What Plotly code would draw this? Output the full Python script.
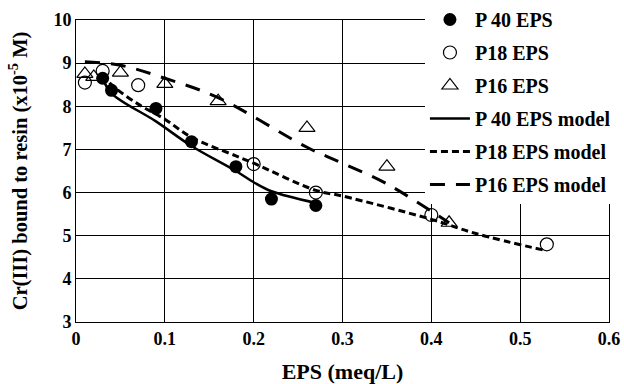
import plotly.graph_objects as go

# Data
p40_x = [0.03, 0.04, 0.09, 0.13, 0.18, 0.22, 0.27]
p40_y = [8.65, 8.37, 7.95, 7.18, 6.60, 5.85, 5.70]
p18_x = [0.01, 0.03, 0.07, 0.20, 0.27, 0.40, 0.53]
p18_y = [8.55, 8.82, 8.49, 6.66, 6.00, 5.48, 4.80]
p16_x = [0.01, 0.02, 0.05, 0.10, 0.16, 0.26, 0.35, 0.42]
p16_y = [8.75, 8.68, 8.78, 8.52, 8.12, 7.50, 6.60, 5.30]

p40m_x = [0.03, 0.04, 0.09, 0.13, 0.18, 0.20, 0.22, 0.27]
p40m_y = [8.65, 8.30, 7.65, 7.08, 6.50, 6.24, 6.03, 5.76]
p18m_x = [0.03, 0.04, 0.07, 0.10, 0.13, 0.18, 0.20, 0.27, 0.30, 0.40, 0.45, 0.53]
p18m_y = [8.75, 8.50, 8.05, 7.70, 7.28, 6.85, 6.68, 6.05, 5.92, 5.38, 5.05, 4.65]
p16m_x = [0.01, 0.05, 0.10, 0.16, 0.26, 0.30, 0.35, 0.42]
p16m_y = [9.03, 8.95, 8.65, 8.20, 7.05, 6.68, 6.20, 5.30]

x_ticks = [0, 0.1, 0.2, 0.3, 0.4, 0.5, 0.6]
x_ticktext = ["0", "0.1", "0.2", "0.3", "0.4", "0.5", "0.6"]

FONT = "Liberation Serif"

fig = go.Figure()
fig.add_trace(go.Scatter(x=p40_x, y=p40_y, mode="markers", name="P 40 EPS",
                         legendgroup="a",
                         marker=dict(symbol="circle", size=13, color="black")))
fig.add_trace(go.Scatter(x=p18_x, y=p18_y, mode="markers", name="P18 EPS",
                         legendgroup="b",
                         marker=dict(symbol="circle-open", size=13, color="black",
                                     line=dict(width=1.2))))
fig.add_trace(go.Scatter(x=p16_x, y=p16_y, mode="markers", name="P16 EPS",
                         legendgroup="c",
                         marker=dict(symbol="triangle-up-open", size=14, color="black",
                                     line=dict(width=1.2))))
fig.add_trace(go.Scatter(x=p40m_x, y=p40m_y, mode="lines", name="P 40 EPS model",
                         legendgroup="d",
                         line=dict(color="black", width=2.5, shape="spline")))
fig.add_trace(go.Scatter(x=p18m_x, y=p18m_y, mode="lines", name="P18 EPS model",
                         legendgroup="e",
                         line=dict(color="black", width=3, dash="7px,4px", shape="spline")))
fig.add_trace(go.Scatter(x=p16m_x, y=p16m_y, mode="lines", name="P16 EPS model",
                         legendgroup="f",
                         line=dict(color="black", width=3, dash="15px,11px", shape="spline")))

axis_common = dict(showgrid=True, gridcolor="black", gridwidth=1,
                   showline=True, linecolor="black", linewidth=1, mirror=True,
                   ticks="", zeroline=False, automargin=False,
                   tickfont=dict(family=FONT, size=18, color="black", weight="bold"))

fig.update_layout(
    width=624, height=384,
    margin=dict(l=76, r=15, t=20, b=62, autoexpand=False),
    paper_bgcolor="white", plot_bgcolor="white",
    font=dict(family=FONT, color="black"),
    xaxis=dict(range=[0, 0.6], tickvals=x_ticks, ticktext=x_ticktext,
               title=dict(text="EPS (meq/L)", standoff=17,
                          font=dict(family=FONT, size=22, color="black", weight="bold")),
               **axis_common),
    yaxis=dict(range=[3, 10], dtick=1,
               title=dict(text="Cr(III) bound to resin (x10<sup>-5</sup> M)", standoff=20,
                          font=dict(family=FONT, size=20.5, color="black", weight="bold")),
               **axis_common),
    legend=dict(xref="container", yref="container", x=0.681, y=1.0,
                xanchor="left", yanchor="top",
                bgcolor="white", borderwidth=0,
                tracegroupgap=4, maxheight=500,
                font=dict(family=FONT, size=20, color="black", weight="bold"),
                itemwidth=40),
    showlegend=True,
)

fig.write_html("out.html", config={"displayModeBar": False},
               post_script="document.body.style.margin='0';document.body.style.padding='0';")
